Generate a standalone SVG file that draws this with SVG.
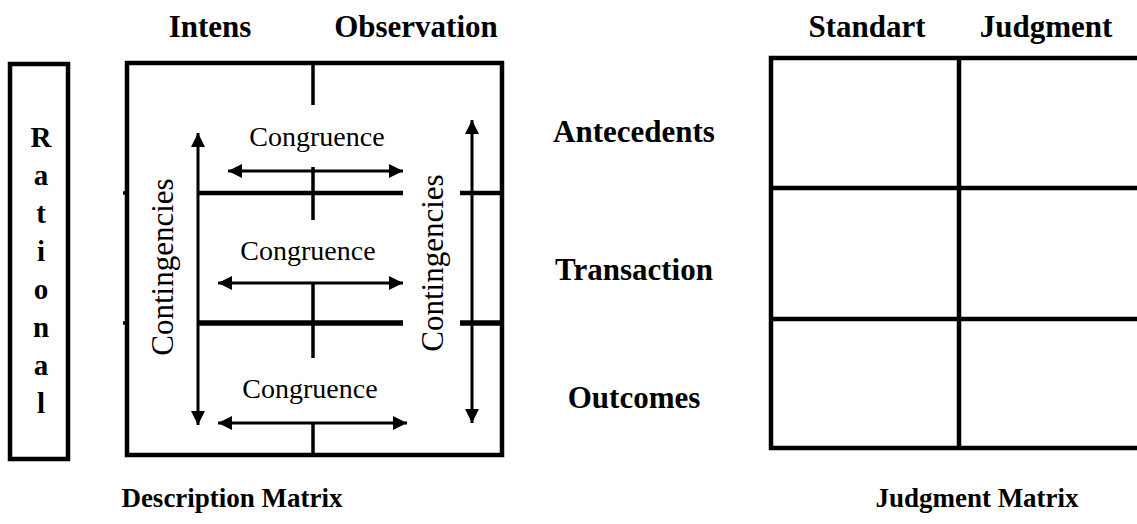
<svg xmlns="http://www.w3.org/2000/svg" width="1137" height="524" viewBox="0 0 1137 524">
<style>
.b{font-family:"Liberation Serif","Times New Roman",serif;font-weight:bold;font-size:31px;fill:#000}
.f{font-family:"Liberation Serif","Times New Roman",serif;font-weight:bold;font-size:27px;fill:#000}
.r{font-family:"Liberation Serif","Times New Roman",serif;font-size:28px;fill:#000}
.c{font-family:"Liberation Serif","Times New Roman",serif;font-size:31px;fill:#000}
.box{fill:none;stroke:#000;stroke-width:4.5}
.ln{stroke:#000;stroke-width:4.5;fill:none}
.tk{stroke:#000;stroke-width:3.5;fill:none}
.ar{stroke:#000;stroke-width:3;fill:none}
</style>
<defs>
<marker id="ah" viewBox="0 0 10 10" refX="10" refY="5" markerWidth="16" markerHeight="14" markerUnits="userSpaceOnUse" orient="auto-start-reverse">
<path d="M0,0 L10,5 L0,10 Z" fill="#000"/>
</marker>
</defs>
<rect width="1137" height="524" fill="#fff"/>
<g id="headers">
<text class="b" x="210" y="37" text-anchor="middle">Intens</text>
<text class="b" x="416" y="37" text-anchor="middle">Observation</text>
<text class="b" x="867" y="37" text-anchor="middle">Standart</text>
<text class="b" x="1046" y="37" text-anchor="middle">Judgment</text>
</g>
<g id="rational">
<rect class="box" x="10" y="64" width="58" height="395"/>
<g class="b" text-anchor="middle" style="font-size:29px">
<text x="41" y="147">R</text>
<text x="41" y="185">a</text>
<text x="41" y="223">t</text>
<text x="41" y="261">i</text>
<text x="41" y="299">o</text>
<text x="41" y="337">n</text>
<text x="41" y="375">a</text>
<text x="41" y="413">l</text>
</g>
</g>
<g id="description-matrix">
<rect class="box" x="127" y="63" width="375" height="392"/>
<line class="ln" x1="198" y1="193" x2="403" y2="193"/>
<line class="ln" x1="460" y1="193" x2="502" y2="193"/>
<line class="ln" x1="198" y1="323" x2="403" y2="323" style="stroke-width:5.5"/>
<line class="ln" x1="460" y1="323" x2="502" y2="323" style="stroke-width:5.5"/>
<line class="tk" x1="123" y1="193" x2="127" y2="193"/>
<line class="tk" x1="123" y1="323" x2="127" y2="323"/>
<line class="tk" x1="313" y1="63" x2="313" y2="105"/>
<line class="tk" x1="313" y1="167" x2="313" y2="220"/>
<line class="tk" x1="313" y1="283" x2="313" y2="358"/>
<line class="tk" x1="313" y1="422" x2="313" y2="455"/>
<text class="r" x="317" y="146" text-anchor="middle">Congruence</text>
<text class="r" x="308" y="260" text-anchor="middle">Congruence</text>
<text class="r" x="310" y="398" text-anchor="middle">Congruence</text>
<text class="c" transform="translate(173,267) rotate(-90)" text-anchor="middle">Contingencies</text>
<text class="c" transform="translate(443,263) rotate(-90)" text-anchor="middle">Contingencies</text>
</g>
<g id="connectors">
<line class="ar" x1="228" y1="171" x2="403" y2="171" marker-start="url(#ah)" marker-end="url(#ah)"/>
<line class="ar" x1="218" y1="283" x2="403" y2="283" marker-start="url(#ah)" marker-end="url(#ah)"/>
<line class="ar" x1="218" y1="423" x2="407" y2="423" marker-start="url(#ah)" marker-end="url(#ah)"/>
<line class="ar" x1="198" y1="133" x2="198" y2="425" marker-start="url(#ah)" marker-end="url(#ah)"/>
<line class="ar" x1="472" y1="120" x2="472" y2="423" marker-start="url(#ah)" marker-end="url(#ah)"/>
</g>
<g id="row-labels">
<text class="b" x="634" y="142" text-anchor="middle">Antecedents</text>
<text class="b" x="634" y="280" text-anchor="middle">Transaction</text>
<text class="b" x="634" y="408" text-anchor="middle">Outcomes</text>
</g>
<g id="judgment-matrix">
<path class="box" d="M1137,58 H771 V448 H1137"/>
<line class="ln" x1="959" y1="58" x2="959" y2="448"/>
<line class="ln" x1="771" y1="188" x2="1137" y2="188"/>
<line class="ln" x1="771" y1="319" x2="1137" y2="319"/>
</g>
<g id="footers">
<text class="f" x="232" y="507" text-anchor="middle">Description Matrix</text>
<text class="f" x="977" y="507" text-anchor="middle">Judgment Matrix</text>
</g>
</svg>
